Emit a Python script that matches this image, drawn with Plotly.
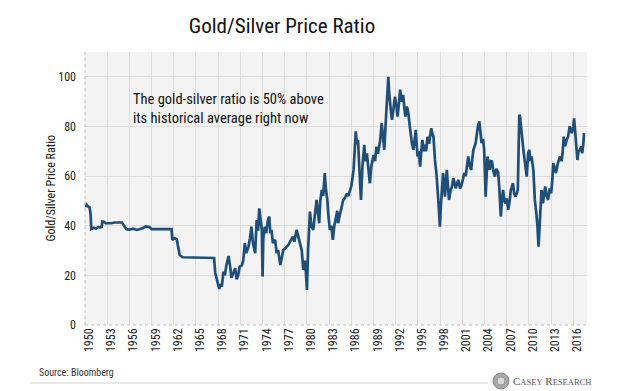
import plotly.graph_objects as go

# ---- data ----
years = [
    1950.0, 1950.2, 1950.4, 1950.6, 1950.75, 1950.85, 1951.2, 1951.5, 1951.8, 1952.0,
    1952.25, 1952.35, 1952.6, 1952.8, 1953.5, 1954.0, 1955.0, 1955.3, 1955.6, 1956.0,
    1956.5, 1957.0, 1957.5, 1957.8, 1958.2, 1958.7, 1959.0, 1960.0, 1961.0, 1961.7,
    1961.8, 1962.1, 1962.4, 1962.6, 1962.8, 1963.2, 1965.0, 1967.3, 1967.45, 1967.6,
    1967.9, 1968.15, 1968.3, 1968.5, 1968.7, 1968.9, 1969.1, 1969.4, 1969.6, 1969.8,
    1970.0, 1970.3, 1970.5, 1970.7, 1970.9, 1971.2, 1971.4, 1971.6, 1971.8, 1972.1,
    1972.3, 1972.5, 1972.7, 1973.0, 1973.2, 1973.4, 1973.55, 1973.75, 1973.9, 1974.0,
    1974.1, 1974.3, 1974.5, 1974.7, 1974.9, 1975.05, 1975.2, 1975.4, 1975.7, 1975.9,
    1976.1, 1976.4, 1976.6, 1976.8, 1977.1, 1977.5, 1977.8, 1978.1, 1978.3, 1978.6,
    1978.8, 1979.05, 1979.3, 1979.5, 1979.75, 1980.0, 1980.15, 1980.4, 1980.6, 1980.85,
    1981.1, 1981.3, 1981.5, 1981.65, 1981.8, 1982.0, 1982.2, 1982.4, 1982.55, 1982.75,
    1982.9, 1983.1, 1983.3, 1983.5, 1983.7, 1983.9, 1984.1, 1984.2, 1984.5, 1984.7,
    1984.9, 1985.1, 1985.4, 1985.6, 1985.8, 1986.0, 1986.3, 1986.45, 1986.6, 1986.75,
    1986.9, 1987.1, 1987.3, 1987.5, 1987.75, 1987.9, 1988.1, 1988.3, 1988.5, 1988.7,
    1989.0, 1989.2, 1989.4, 1989.6, 1989.9, 1990.1, 1990.3, 1990.45, 1990.65, 1990.8,
    1991.0, 1991.1, 1991.2, 1991.35, 1991.5, 1991.7, 1991.9, 1992.1, 1992.25, 1992.45,
    1992.6, 1992.8, 1993.0, 1993.15, 1993.3, 1993.5, 1993.7, 1993.9, 1994.05, 1994.2,
    1994.4, 1994.55, 1994.7, 1994.85, 1994.95, 1995.1, 1995.3, 1995.45, 1995.6, 1995.8,
    1995.95, 1996.1, 1996.3, 1996.5, 1996.8, 1996.95, 1997.1, 1997.3, 1997.5, 1997.75,
    1997.97, 1998.1, 1998.2, 1998.4, 1998.55, 1998.65, 1998.9, 1999.05, 1999.2, 1999.4,
    1999.6, 1999.8, 2000.1, 2000.3, 2000.45, 2000.7, 2000.9, 2001.1, 2001.25, 2001.45,
    2001.6, 2001.8, 2002.0, 2002.2, 2002.35, 2002.5, 2002.8, 2003.1, 2003.3, 2003.45,
    2003.6, 2003.8, 2003.95, 2004.15, 2004.3, 2004.4, 2004.55, 2004.7, 2004.85, 2005.0,
    2005.2, 2005.4, 2005.6, 2005.85, 2006.0, 2006.2, 2006.35, 2006.5, 2006.7, 2006.85,
    2007.0, 2007.2, 2007.4, 2007.55, 2007.85, 2008.0, 2008.2, 2008.5, 2008.6, 2008.7,
    2008.8, 2008.9, 2009.1, 2009.25, 2009.4, 2009.55, 2009.7, 2009.9, 2010.05, 2010.2,
    2010.35, 2010.6, 2010.8, 2011.0, 2011.15, 2011.3, 2011.4, 2011.5, 2011.7, 2011.9,
    2012.2, 2012.4, 2012.6, 2012.8, 2013.0, 2013.15, 2013.3, 2013.5, 2013.65, 2013.9,
    2014.2, 2014.4, 2014.55, 2014.7, 2014.9, 2015.1, 2015.3, 2015.5, 2015.8, 2016.0,
    2016.1, 2016.25, 2016.35, 2016.55, 2016.7, 2016.9, 2017.05, 2017.2, 2017.35, 2017.45,
]
ratio = [
    47.5, 48.5, 47.8, 47.5, 45.0, 38.7, 39.2, 38.8, 39.5, 39.3,
    39.5, 41.7, 41.5, 41.0, 41.0, 41.3, 41.3, 40.0, 38.6, 38.4,
    38.8, 38.3, 38.6, 39.0, 39.7, 39.5, 38.6, 38.6, 38.6, 38.6,
    34.3, 35.0, 34.5, 31.0, 28.2, 27.3, 27.3, 27.3, 27.0, 21.0,
    17.0, 14.5, 16.5, 15.5, 21.5, 20.0, 24.0, 27.8, 24.0, 19.0,
    20.5, 22.9, 18.4, 20.0, 23.5, 24.0, 26.2, 33.0, 29.0, 31.6,
    35.0, 39.6, 33.0, 28.9, 42.3, 38.0, 47.0, 40.0, 38.3, 19.5,
    35.0, 39.6, 37.0, 42.0, 43.7, 37.0, 38.3, 33.0, 34.3, 29.0,
    30.2, 24.2, 28.0, 30.2, 31.0, 32.3, 34.0, 35.6, 33.5, 38.3,
    36.0, 33.0, 30.0, 22.2, 26.0, 14.1, 30.0, 45.7, 40.0, 38.3,
    44.0, 50.4, 45.0, 41.0, 50.0, 54.4, 52.0, 61.2, 55.0, 50.4,
    44.0, 38.3, 40.0, 34.3, 40.0, 43.7, 46.0, 41.0, 45.0, 49.0,
    50.4, 51.0, 53.0, 52.0, 54.4, 56.0, 62.5, 70.0, 78.0, 73.0,
    74.6, 62.0, 50.4, 64.0, 72.6, 66.0, 69.2, 63.0, 57.1, 64.0,
    68.5, 66.0, 71.9, 69.0, 74.6, 81.3, 76.0, 70.6, 82.0, 90.7,
    100.0, 94.0, 89.4, 86.0, 82.7, 88.0, 92.0, 88.0, 84.0, 90.0,
    94.8, 90.0, 92.7, 88.0, 84.0, 88.0, 85.4, 80.0, 75.9, 73.0,
    70.6, 74.0, 78.6, 72.0, 67.9, 70.0, 63.8, 70.0, 74.6, 70.0,
    72.6, 70.0, 75.9, 73.0, 79.3, 77.0, 75.9, 66.5, 61.0, 50.4,
    39.6, 48.0, 54.4, 61.2, 56.0, 51.7, 62.5, 57.0, 50.4, 54.0,
    55.8, 59.2, 55.1, 57.0, 58.5, 55.0, 56.5, 59.0, 61.2, 60.0,
    63.8, 67.9, 64.0, 62.5, 67.0, 70.6, 73.3, 80.0, 82.0, 76.0,
    73.3, 75.0, 70.6, 51.7, 60.0, 67.9, 64.0, 62.5, 66.0, 65.9,
    62.0, 59.8, 63.0, 61.2, 55.0, 43.7, 50.0, 54.4, 50.0, 49.0,
    51.0, 46.4, 50.0, 54.4, 57.1, 53.0, 51.7, 54.4, 70.0, 84.7,
    84.0, 80.0, 75.0, 70.6, 66.0, 63.8, 59.8, 69.2, 70.6, 66.0,
    67.9, 62.5, 50.4, 45.0, 40.0, 31.6, 38.0, 43.7, 54.4, 49.0,
    55.8, 52.0, 50.4, 55.0, 53.0, 58.0, 65.2, 63.0, 61.2, 65.0,
    67.9, 66.0, 69.2, 75.9, 72.0, 74.6, 76.0, 80.0, 77.3, 80.0,
    83.3, 78.0, 73.3, 66.5, 70.0, 70.6, 72.0, 69.2, 73.0, 77.3,
]
tick_years = list(range(1950, 2017, 3))
y_ticks = [0, 20, 40, 60, 80, 100]

title_text = "Gold/Silver Price Ratio"
y_title = "Gold/Silver Price Ratio"
note_text = "The gold-silver ratio is 50% above<br>its historical average right now"
source_text = "Source: Bloomberg"

NARROW = "Liberation Sans Narrow, Arial Narrow, Roboto Condensed, DejaVu Sans Condensed, sans-serif"
LINE = "#1f4e79"
GRID = "#dcdcdc"

fig = go.Figure()
fig.add_trace(go.Scatter(
    x=years, y=ratio, mode="lines",
    line=dict(color=LINE, width=2.7),
    showlegend=False, hoverinfo="skip",
))

fig.update_layout(
    width=630, height=391,
    margin=dict(l=85, r=43, t=52, b=66),
    paper_bgcolor="white",
    plot_bgcolor="#f3f3f3",
    font=dict(family=NARROW, color="#222222", size=12),
    title=dict(text=title_text, x=282 / 630, xref="container", xanchor="center",
               y=1 - 26 / 391, yref="container", yanchor="middle",
               font=dict(family=NARROW, size=21, color="#111111")),
    xaxis=dict(
        range=[1950, 2017.85],
        tickmode="array",
        tickvals=[t + 0.55 for t in tick_years],
        ticktext=[str(t) for t in tick_years],
        tickangle=-90,
        showgrid=False,
        zeroline=False,
        showline=False,
        tickfont=dict(size=12, color="#222222"),
        minor=dict(tick0=1950, dtick=3, showgrid=True, gridcolor=GRID, gridwidth=1),
    ),
    yaxis=dict(
        range=[0, 110],
        tickvals=y_ticks,
        showgrid=True, gridcolor=GRID, gridwidth=1,
        zeroline=False, showline=False,
        tickfont=dict(size=12, color="#222222"),
        ticklabelstandoff=8,
    ),
)

# dotted axis borders
fig.add_shape(type="line", xref="paper", yref="paper", x0=0, x1=0, y0=0, y1=1,
              line=dict(color="#bdbdbd", width=1, dash="dot"))
fig.add_shape(type="line", xref="paper", yref="paper", x0=0, x1=1, y0=0, y1=0,
              line=dict(color="#bdbdbd", width=1, dash="dot"))

# y-axis title
fig.add_annotation(text=y_title, textangle=-90, xref="paper", yref="paper",
                   x=-35 / 502, y=0.5, xanchor="center", yanchor="middle",
                   showarrow=False, font=dict(family=NARROW, size=12, color="#222222"))

# note
fig.add_annotation(text=note_text, xref="paper", yref="paper",
                   x=(131 - 85) / 502, y=(325 - 89) / 273, xanchor="left", yanchor="top",
                   align="left", showarrow=False,
                   font=dict(family=NARROW, size=14.5, color="#111111"))

# source
fig.add_annotation(text=source_text, xref="paper", yref="paper",
                   x=(37 - 85) / 502, y=(325 - 372) / 273, xanchor="left", yanchor="middle",
                   showarrow=False, font=dict(family=NARROW, size=10, color="#333333"))

# footer rule
fig.add_shape(type="line", xref="paper", yref="paper",
              x0=(30 - 85) / 502, x1=(488 - 85) / 502,
              y0=(325 - 383) / 273, y1=(325 - 383) / 273,
              line=dict(color="#d0d0d0", width=1))

# logo mark + text
cx, cy, r = 501, 381, 8
fig.add_shape(type="circle", xref="paper", yref="paper",
              x0=(cx - r - 85) / 502, x1=(cx + r - 85) / 502,
              y0=(325 - cy - r) / 273, y1=(325 - cy + r) / 273,
              fillcolor="#a8a8a8", line=dict(color="#8a8a8a", width=1))
fig.add_shape(type="circle", xref="paper", yref="paper",
              x0=(cx - 4 - 85) / 502, x1=(cx + 4 - 85) / 502,
              y0=(325 - cy - 4) / 273, y1=(325 - cy + 4) / 273,
              fillcolor="#d8d8d8", line=dict(color="#9a9a9a", width=1))
fig.add_annotation(
    text="C<span style='font-size:8.5px'>ASEY</span> R<span style='font-size:8.5px'>ESEARCH</span>",
    xref="paper", yref="paper", x=(511 - 85) / 502, y=(325 - 381) / 273,
    xanchor="left", yanchor="middle", showarrow=False,
    font=dict(family="Liberation Serif, DejaVu Serif, serif", size=11, color="#555555"))

fig.write_html("out.html", config={"displayModeBar": False},
               post_script="document.body.style.margin='0';document.body.style.overflow='hidden';")
